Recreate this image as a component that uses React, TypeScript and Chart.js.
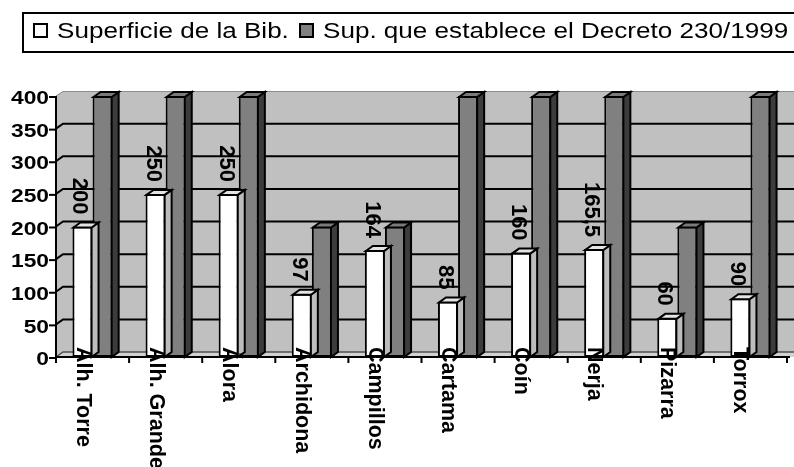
import React, { useEffect, useRef } from 'react';
import { Chart, registerables } from 'chart.js';

Chart.register(...registerables);

// ---- data ----
const categories = ['Alh. Torre', 'Alh. Grande', 'Álora', 'Archidona', 'Campillos', 'Cartama', 'Coín', 'Nerja', 'Pizarra', 'Torrox'];
const superficie = [200, 250, 250, 97, 164, 85, 160, 165.5, 60, 90];
const decreto = [400, 400, 400, 200, 200, 400, 400, 400, 200, 400];
const yTicks = [0, 50, 100, 150, 200, 250, 300, 350, 400];
const seriesNames = ['Superficie de la Bib.', 'Sup. que establece el Decreto 230/1999'];

const FONT = "'Liberation Sans', Arial, sans-serif";
const DX = 7;
const DY = -5;

const fmt = (v: number) => String(v).replace('.', ',');

const threeD = {
  id: 'threeD',
  beforeDatasetsDraw(chart: any) {
    const { ctx, chartArea: a, scales } = chart;
    const y = scales.y;
    const W = chart.width;
    ctx.save();
    // back + side wall
    ctx.fillStyle = '#c0c0c0';
    ctx.beginPath();
    ctx.moveTo(a.left, a.top);
    ctx.lineTo(a.left + DX, a.top + DY);
    ctx.lineTo(W, a.top + DY);
    ctx.lineTo(W, a.bottom);
    ctx.lineTo(a.left, a.bottom);
    ctx.closePath();
    ctx.fill();
    // top edge
    ctx.strokeStyle = '#8c8c8c';
    ctx.lineWidth = 1;
    ctx.beginPath();
    ctx.moveTo(a.left, a.top);
    ctx.lineTo(a.left + DX, a.top + DY + 0.5);
    ctx.lineTo(W, a.top + DY + 0.5);
    ctx.stroke();
    // floor
    ctx.fillStyle = '#d2d2d2';
    ctx.beginPath();
    ctx.moveTo(a.left, a.bottom);
    ctx.lineTo(a.left + DX, a.bottom + DY);
    ctx.lineTo(W, a.bottom + DY);
    ctx.lineTo(W, a.bottom);
    ctx.closePath();
    ctx.fill();
    ctx.strokeStyle = '#505050';
    ctx.lineWidth = 1.5;
    ctx.beginPath();
    ctx.moveTo(a.left, a.bottom);
    ctx.lineTo(a.left + DX, a.bottom + DY);
    ctx.lineTo(W, a.bottom + DY);
    ctx.stroke();
    // gridlines
    ctx.strokeStyle = '#000';
    ctx.lineWidth = 2;
    yTicks.forEach((v) => {
      if (v <= 0 || v >= 400) return;
      const py = y.getPixelForValue(v);
      ctx.beginPath();
      ctx.moveTo(a.left, py);
      ctx.lineTo(a.left + DX, py + DY);
      ctx.lineTo(W, py + DY);
      ctx.stroke();
    });
    // y axis line
    ctx.beginPath();
    ctx.moveTo(a.left, a.top);
    ctx.lineTo(a.left, a.bottom + 1);
    ctx.stroke();
    // ticks and labels
    ctx.fillStyle = '#000';
    ctx.font = `bold 19px ${FONT}`;
    ctx.textAlign = 'right';
    ctx.textBaseline = 'middle';
    yTicks.forEach((v) => {
      const py = y.getPixelForValue(v);
      ctx.beginPath();
      ctx.moveTo(a.left - 7, py + 1);
      ctx.lineTo(a.left, py + 1);
      ctx.stroke();
      ctx.save();
      ctx.translate(a.left - 7, py + 3);
      ctx.scale(1.2, 1);
      ctx.fillText(String(v), 0, 0);
      ctx.restore();
    });
    ctx.restore();
  },
  afterDatasetDraw(chart: any, args: any) {
    const { ctx } = chart;
    const ds = chart.data.datasets[args.index];
    ctx.save();
    ctx.strokeStyle = '#000';
    ctx.lineWidth = 2;
    ctx.lineJoin = 'miter';
    args.meta.data.forEach((el: any) => {
      const { x, y, base, width } = el.getProps(['x', 'y', 'base', 'width'], true);
      const x0 = x - width / 2 + 1;
      const x1 = x + width / 2 - 1;
      const top = y + 1;
      const bottom = base;
      // side face
      ctx.fillStyle = ds.sideColor;
      ctx.beginPath();
      ctx.moveTo(x1, top);
      ctx.lineTo(x1 + DX, top + DY);
      ctx.lineTo(x1 + DX, bottom + DY);
      ctx.lineTo(x1, bottom);
      ctx.closePath();
      ctx.fill();
      ctx.stroke();
      // top face
      ctx.fillStyle = ds.topColor;
      ctx.beginPath();
      ctx.moveTo(x0, top);
      ctx.lineTo(x0 + DX, top + DY);
      ctx.lineTo(x1 + DX, top + DY);
      ctx.lineTo(x1, top);
      ctx.closePath();
      ctx.fill();
      ctx.stroke();
    });
    ctx.restore();
  },
  afterDatasetsDraw(chart: any) {
    const { ctx, chartArea: a, scales } = chart;
    const x = scales.x;
    const n = categories.length;
    const step = (a.right - a.left) / n;
    ctx.save();
    // x axis
    ctx.strokeStyle = '#000';
    ctx.lineWidth = 2;
    ctx.beginPath();
    ctx.moveTo(a.left - 1, a.bottom);
    ctx.lineTo(a.right + 3, a.bottom);
    ctx.stroke();
    for (let i = 0; i <= n; i++) {
      const px = i < n ? x.getPixelForValue(i) - step / 2 : x.getPixelForValue(n - 1) + step / 2;
      ctx.beginPath();
      ctx.moveTo(px, a.bottom);
      ctx.lineTo(px, a.bottom + 6);
      ctx.stroke();
    }
    // category labels (rotated, reading downward)
    ctx.fillStyle = '#000';
    ctx.font = `bold 21.5px ${FONT}`;
    ctx.textAlign = 'left';
    ctx.textBaseline = 'alphabetic';
    categories.forEach((c, i) => {
      const cx = x.getPixelForValue(i);
      ctx.save();
      ctx.translate(cx - 16, a.bottom - 10);
      ctx.rotate(Math.PI / 2);
      ctx.fillText(c, 0, 0);
      ctx.restore();
    });
    // data labels on first series
    const meta = chart.getDatasetMeta(0);
    ctx.font = `bold 22px ${FONT}`;
    ctx.textAlign = 'right';
    meta.data.forEach((el: any, i: number) => {
      const { x: bx, y: by } = el.getProps(['x', 'y'], true);
      ctx.save();
      ctx.translate(bx - 9, by - 12);
      ctx.rotate(Math.PI / 2);
      ctx.fillText(fmt(superficie[i]), 0, 0);
      ctx.restore();
    });
    ctx.restore();
  },
  afterDraw(chart: any) {
    const { ctx } = chart;
    ctx.save();
    // legend box
    ctx.fillStyle = '#fff';
    ctx.fillRect(23, 13, 800, 39);
    ctx.strokeStyle = '#000';
    ctx.lineWidth = 2;
    ctx.strokeRect(23, 13, 800, 39);
    const items = [
      { x: 33, tx: 57, fill: '#ffffff' },
      { x: 299, tx: 323, fill: '#808080' },
    ];
    ctx.font = `22px ${FONT}`;
    ctx.textAlign = 'left';
    ctx.textBaseline = 'alphabetic';
    items.forEach((it, i) => {
      ctx.fillStyle = it.fill;
      ctx.fillRect(it.x + 1, 24, 13, 13);
      ctx.strokeStyle = '#000';
      ctx.lineWidth = 2;
      ctx.strokeRect(it.x + 1, 24, 13, 13);
      ctx.fillStyle = '#000';
      ctx.save();
      ctx.translate(it.tx, 38);
      ctx.scale(1.185, 1);
      ctx.fillText(seriesNames[i], 0, 0);
      ctx.restore();
    });
    ctx.restore();
  },
};

export default function App() {
  const ref = useRef<HTMLCanvasElement | null>(null);
  useEffect(() => {
    document.body.style.margin = '0';
    const canvas = ref.current;
    if (!canvas) return;
    const chart = new Chart(canvas, {
      type: 'bar',
      data: {
        labels: categories,
        datasets: [
          {
            label: seriesNames[0],
            data: superficie,
            backgroundColor: '#ffffff',
            borderColor: '#000000',
            borderWidth: 2,
            borderSkipped: false,
            topColor: '#e4e4e4',
            sideColor: '#bdbdbd',
          } as any,
          {
            label: seriesNames[1],
            data: decreto,
            backgroundColor: '#808080',
            borderColor: '#000000',
            borderWidth: 2,
            borderSkipped: false,
            topColor: '#7a7a7a',
            sideColor: '#3c3c3c',
          } as any,
        ],
      },
      options: {
        responsive: false,
        animation: false,
        devicePixelRatio: 1,
        layout: { padding: { left: 56, right: 7, top: 96, bottom: 110 } },
        datasets: { bar: { categoryPercentage: 0.55, barPercentage: 1 } },
        plugins: { legend: { display: false }, tooltip: { enabled: false } },
        scales: {
          x: { display: false, offset: true },
          y: { display: false, min: 0, max: 400 },
        },
      },
      plugins: [threeD],
    });
    return () => chart.destroy();
  }, []);
  return (
    <div style={{ width: 794, height: 467, overflow: 'hidden', background: '#fff' }}>
      <canvas ref={ref} width={794} height={467} style={{ display: 'block' }} />
    </div>
  );
}
